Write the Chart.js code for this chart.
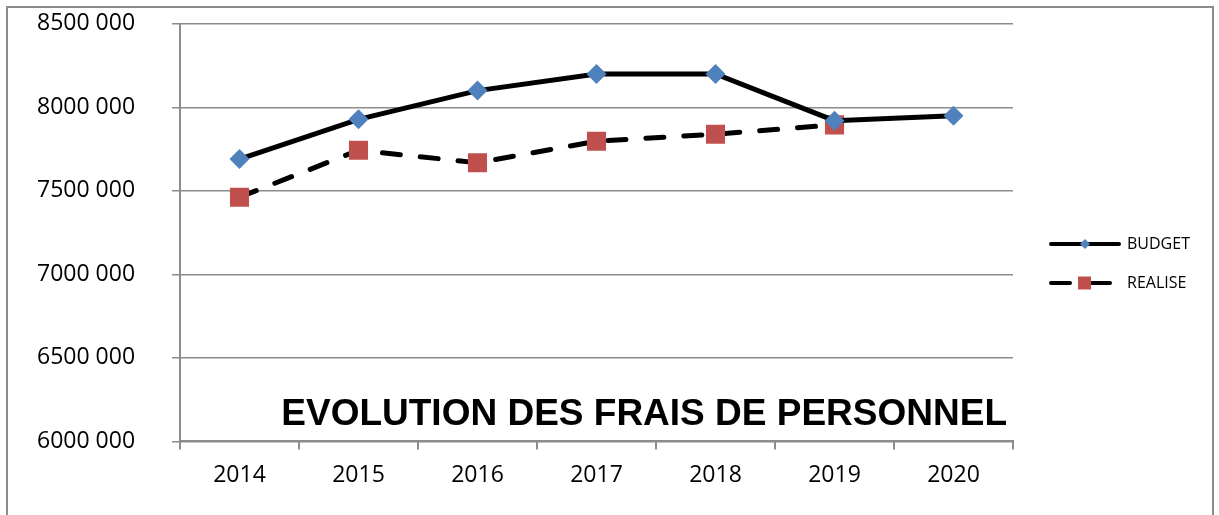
<!DOCTYPE html>
<html>
<head>
<meta charset="utf-8">
<script src="https://cdn.jsdelivr.net/npm/chart.js@4"></script>
<style>
  html, body { margin: 0; padding: 0; background: #fff; }
  #frame {
    position: absolute; left: 6px; top: 6px; width: 1208px; height: 530px;
    border: 2px solid #8c8c8c; box-sizing: border-box;
  }
  #wrap { position: absolute; left: 0; top: 0; width: 1219px; height: 515px; }
</style>
</head>
<body>
<div id="frame"></div>
<div id="wrap"><canvas id="chart" width="1219" height="515"></canvas></div>
<script>
const years = ["2014", "2015", "2016", "2017", "2018", "2019", "2020"];
const budget = [7690000, 7928000, 8100000, 8200000, 8200000, 7920000, 7950000];
const realise = [7462000, 7743000, 7668000, 7797000, 7839000, 7895000, null];
const yTicks = [6000000, 6500000, 7000000, 7500000, 8000000, 8500000];
const chartTitle = "EVOLUTION DES FRAIS DE PERSONNEL";

const BLUE = "#4f81bd";
const RED = "#c0504d";
const GRID = "#8c8c8c";
const LABEL_FONT = "'Open Sans', sans-serif";

function fmt(v) {
  // 8500000 -> "8500 000"
  const s = String(v);
  return s.slice(0, s.length - 3) + " " + s.slice(-3);
}

// titre dans la zone de tracé + légende dessinée à la main
const extras = {
  id: "extras",
  afterDraw(chart) {
    const ctx = chart.ctx;
    const area = chart.chartArea;
    ctx.save();
    ctx.fillStyle = "#000";
    ctx.font = "bold 37px 'Liberation Sans', Arial, sans-serif";
    ctx.textAlign = "right";
    ctx.textBaseline = "alphabetic";
    ctx.fillText(chartTitle, area.right - 6, area.bottom - 16);

    // légende
    const items = [
      { label: "BUDGET", y: 244, color: BLUE, shape: "diamond", dash: false },
      { label: "REALISE", y: 283, color: RED, shape: "square", dash: true },
    ];
    items.forEach((it) => {
      ctx.strokeStyle = "#000";
      ctx.lineWidth = 4;
      ctx.lineCap = "round";
      ctx.beginPath();
      if (it.dash) {
        ctx.moveTo(1051, it.y); ctx.lineTo(1070, it.y);
        ctx.moveTo(1092, it.y); ctx.lineTo(1110, it.y);
      } else {
        ctx.moveTo(1051, it.y); ctx.lineTo(1119, it.y);
      }
      ctx.stroke();
      ctx.fillStyle = it.color;
      ctx.beginPath();
      if (it.shape === "diamond") {
        const cx = 1085, r = 5;
        ctx.moveTo(cx - r, it.y); ctx.lineTo(cx, it.y - r);
        ctx.lineTo(cx + r, it.y); ctx.lineTo(cx, it.y + r);
        ctx.closePath();
      } else {
        ctx.rect(1078, it.y - 6.5, 13, 13);
      }
      ctx.fill();
      ctx.fillStyle = "#000";
      ctx.font = "16px " + LABEL_FONT;
      ctx.textAlign = "left";
      ctx.textBaseline = "middle";
      ctx.fillText(it.label, 1127, it.y);
    });
    ctx.restore();
  },
};

new Chart(document.getElementById("chart"), {
  type: "line",
  data: {
    labels: years,
    datasets: [
      {
        label: "BUDGET",
        data: budget,
        borderColor: "#000",
        borderWidth: 5,
        pointStyle: "rectRot",
        pointRadius: 10,
        pointHoverRadius: 10,
        pointBackgroundColor: BLUE,
        pointBorderColor: BLUE,
        pointBorderWidth: 0,
        tension: 0,
      },
      {
        label: "REALISE",
        data: realise,
        borderColor: "#000",
        borderWidth: 5,
        borderDash: [18, 20],
        borderCapStyle: "round",
        pointStyle: "rect",
        pointRadius: 13.5,
        pointHoverRadius: 13.5,
        pointBackgroundColor: RED,
        pointBorderColor: RED,
        pointBorderWidth: 0,
        tension: 0,
      },
    ],
  },
  options: {
    responsive: false,
    animation: false,
    layout: { autoPadding: false, padding: { left: 37, right: 206, top: 10, bottom: 14 } },
    plugins: {
      legend: { display: false },
      title: { display: false },
      tooltip: { enabled: false },
    },
    scales: {
      x: {
        offset: true,
        grid: {
          offset: true,
          drawOnChartArea: false,
          drawTicks: true,
          tickLength: 8,
          color: GRID,
          lineWidth: 2,
        },
        border: { color: GRID, width: 2 },
        ticks: {
          color: "#000",
          font: { family: LABEL_FONT, size: 23 },
          padding: 12,
          maxRotation: 0,
        },
      },
      y: {
        min: 6000000,
        max: 8500000,
        afterBuildTicks(scale) {
          scale.ticks = yTicks.map((v) => ({ value: v }));
        },
        afterFit(scale) {
          scale.width = 143;
        },
        grid: { color: GRID, lineWidth: 1.5, tickLength: 8 },
        border: { color: GRID, width: 2 },
        ticks: {
          color: "#000",
          font: { family: LABEL_FONT, size: 23 },
          padding: 10,
          crossAlign: "far",
          callback: (v) => fmt(v),
        },
      },
    },
  },
  plugins: [extras],
});
</script>
</body>
</html>
